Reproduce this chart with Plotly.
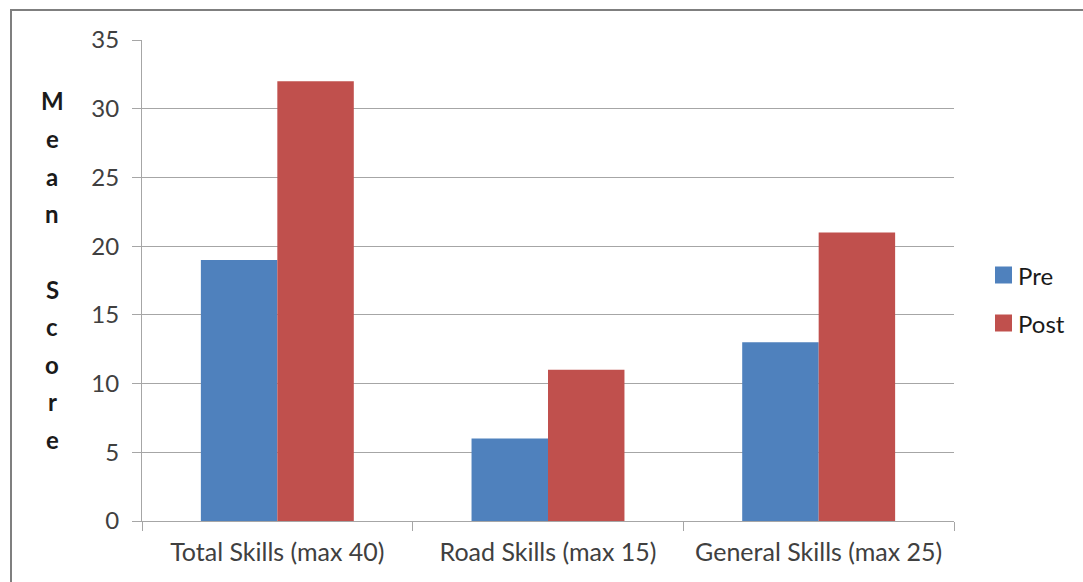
import plotly.graph_objects as go

categories = ["Total Skills (max 40)", "Road Skills (max 15)", "General Skills (max 25)"]
pre_scores = [19, 6, 13]
post_scores = [32, 11, 21]
y_ticks = [0, 5, 10, 15, 20, 25, 30, 35]
title_letters = ["M", "e", "a", "n", "", "S", "c", "o", "r", "e"]
series_names = ["Pre", "Post"]
series_colors = ["#4F81BD", "#C0504D"]

W, H = 1083, 582
L, R, T, B = 142, 129, 40, 61
plot_w = W - L - R
plot_h = H - T - B

font_family = "Lato, 'Open Sans', sans-serif"
text_color = "#404040"


def px_x(px):
    return (px - L) / plot_w


def px_y(py):
    return (H - B - py) / plot_h


fig = go.Figure()
for name, values, color in zip(series_names, [pre_scores, post_scores], series_colors):
    fig.add_trace(go.Bar(name=name, x=categories, y=values, marker_color=color,
                         marker_line_width=0, showlegend=False))

annotations = []
shapes = []

# stacked letters of the vertical axis title
top_px, step_px = 101, 37.6
for i, ch in enumerate(title_letters):
    if not ch:
        continue
    annotations.append(dict(
        text=ch, xref="paper", yref="paper",
        x=px_x(52), y=px_y(top_px + i * step_px),
        showarrow=False, xanchor="center", yanchor="middle",
        font=dict(family=font_family, size=24, color="#1a1a1a", weight="bold"),
    ))

# legend: colour squares with labels
for i, (name, color) in enumerate(zip(series_names, series_colors)):
    cy = 275 + i * 48
    shapes.append(dict(
        type="rect", xref="paper", yref="paper",
        x0=px_x(995), x1=px_x(1012), y0=px_y(cy + 8.5), y1=px_y(cy - 8.5),
        line=dict(width=0), fillcolor=color,
    ))
    annotations.append(dict(
        text=name, xref="paper", yref="paper",
        x=px_x(1016), y=px_y(cy), showarrow=False,
        xanchor="left", yanchor="middle",
        font=dict(family=font_family, size=24, color="#1a1a1a"),
    ))

# outer chart frame
shapes.append(dict(
    type="rect", xref="paper", yref="paper",
    x0=px_x(11), x1=px_x(W + 20), y0=px_y(H + 20), y1=px_y(10),
    line=dict(color="#7f7f7f", width=2), fillcolor="rgba(0,0,0,0)", layer="below",
))

fig.update_layout(
    width=W, height=H,
    margin=dict(l=L, r=R, t=T, b=B, autoexpand=False),
    paper_bgcolor="white", plot_bgcolor="white",
    barmode="group", bargap=0.435, bargroupgap=0,
    font=dict(family=font_family, size=24, color=text_color),
    annotations=annotations,
    shapes=shapes,
    showlegend=False,
)
fig.update_yaxes(
    range=[0, 35], tickvals=y_ticks, showgrid=True, gridcolor="#a6a6a6", gridwidth=1,
    showline=True, linecolor="#a6a6a6", linewidth=1,
    ticks="outside", ticklen=9, tickcolor="#a6a6a6", ticklabelstandoff=8,
    tickfont=dict(size=24), zeroline=False, fixedrange=True,
)
fig.update_xaxes(
    showline=True, linecolor="#a6a6a6", linewidth=1,
    ticks="outside", ticklen=9, tickcolor="#a6a6a6", tickson="boundaries",
    ticklabelstandoff=9, tickfont=dict(size=25),
)

fig.write_html("out.html")
